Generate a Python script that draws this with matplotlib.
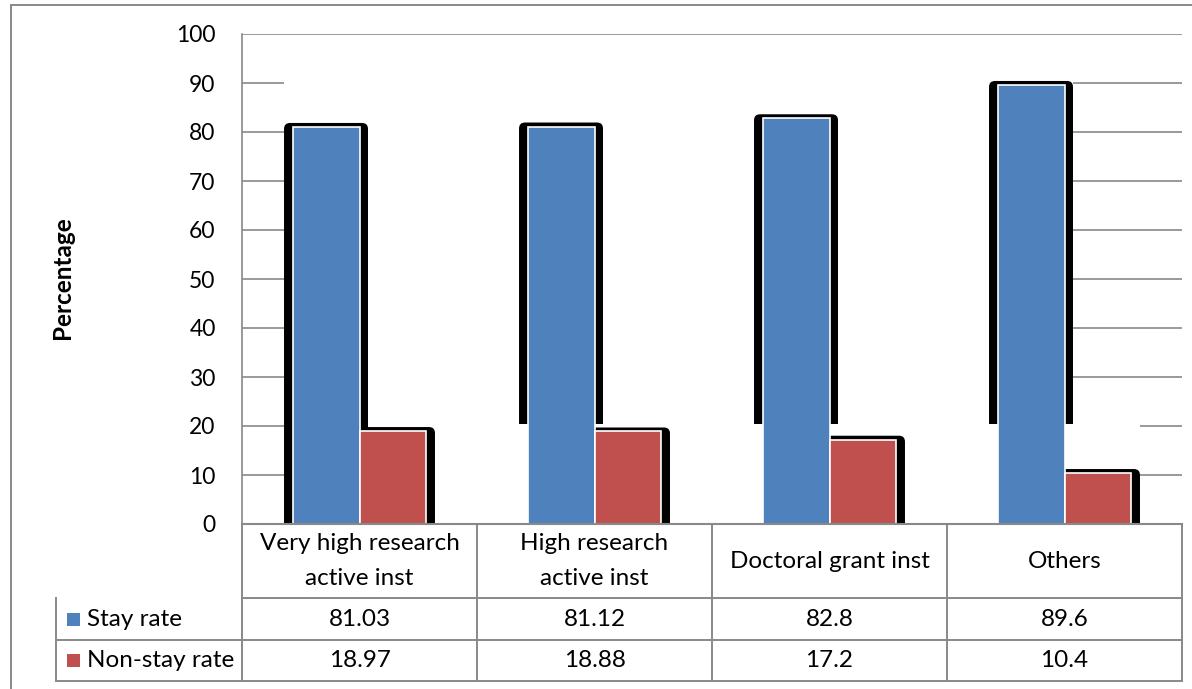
import numpy as np
import matplotlib.pyplot as plt
from matplotlib.patches import Rectangle, FancyBboxPatch
from matplotlib.lines import Line2D

plt.rcParams.update({'font.family': 'Lato', 'font.size': 17.5})

categories = ["Very high research\nactive inst", "High research\nactive inst",
              "Doctoral grant inst", "Others"]
series = ["Stay rate", "Non-stay rate"]
stay_rate = [81.03, 81.12, 82.8, 89.6]
nonstay_rate = [18.97, 18.88, 17.2, 10.4]
yticks = [0, 10, 20, 30, 40, 50, 60, 70, 80, 90, 100]

blue = '#4F81BD'
red = '#C0504D'
grid_c = '#898989'

W, H = 1192, 689
fig = plt.figure(figsize=(W / 100, H / 100), dpi=100)
ax = fig.add_axes([242 / W, 1 - 524 / H, 940 / W, 490 / H])
ax.set_xlim(0, len(categories))
ax.set_ylim(0, 100)

# pixel scale of the axes, used for shadow offsets
px_x = 940 / len(categories)
px_y = 490 / 100

bw = 0.285
x = np.arange(len(categories)) + 0.5
pad_x = 8.5 / px_x
pad_top = 4 / px_y
cut = 20.4

for v in yticks[1:]:
    ax.axhline(v, color=grid_c, lw=1.2, zorder=0)

# white area behind the bars hides the gridlines
left_edge = x[0] - bw - pad_x
ax.add_patch(Rectangle((left_edge, 0), x[-1] + pad_x - left_edge, 99.6,
                       fc='white', ec='none', zorder=1))


def shadow(x0, top, z):
    ax.add_patch(FancyBboxPatch((x0 - pad_x, -3), bw + 2 * pad_x, top + pad_top + 3,
                                boxstyle='round,pad=0,rounding_size=%f' % (6 / px_x),
                                mutation_aspect=px_x / px_y,
                                fc='black', ec='none', zorder=z))


for i in range(len(categories)):
    shadow(x[i] - bw, stay_rate[i], 4 if i == 0 else 2)

ax.add_patch(Rectangle((left_edge, 0), x[-1] + bw + pad_x - left_edge, cut,
                       fc='white', ec='none', zorder=3))

for i in range(len(categories)):
    shadow(x[i], nonstay_rate[i], 4)

ax.bar(x - bw / 2, stay_rate, bw, color=blue, edgecolor='white', lw=1.2, zorder=5)
ax.bar(x + bw / 2, nonstay_rate, bw, color=red, edgecolor='white', lw=1.2, zorder=5)
ax.axhline(0, color=grid_c, lw=1.5, zorder=6, clip_on=False)

for s in ['top', 'right', 'bottom']:
    ax.spines[s].set_visible(False)
ax.spines['left'].set_color(grid_c)
ax.spines['left'].set_linewidth(1.2)
ax.set_xticks([])
ax.set_yticks(yticks)
ax.tick_params(axis='y', length=0, pad=19, labelsize=16.5)

# data table under the plot
tr = ax.get_xaxis_transform()
row_y = [0, -74 / 490, -116 / 490, -157 / 490]
key_x = (56 - 242) / px_x
lkw = dict(color=grid_c, lw=1.4, transform=tr, clip_on=False)
ax.add_line(Line2D([0, 4], [row_y[1]] * 2, **lkw))
for r in (2, 3):
    ax.add_line(Line2D([key_x, 4], [row_y[r]] * 2, **lkw))
for c in range(len(categories) + 1):
    ax.add_line(Line2D([c, c], [row_y[0], row_y[3]], **lkw))
ax.add_line(Line2D([key_x, key_x], [row_y[1], row_y[3]], **lkw))

for i, cat in enumerate(categories):
    ax.text(x[i], (row_y[0] + row_y[1]) / 2, cat, transform=tr, ha='center',
            va='center', linespacing=1.78)
    ax.text(x[i], (row_y[1] + row_y[2]) / 2, '%g' % stay_rate[i], transform=tr,
            ha='center', va='center')
    ax.text(x[i], (row_y[2] + row_y[3]) / 2, '%g' % nonstay_rate[i], transform=tr,
            ha='center', va='center')

for r, (name, col) in enumerate(zip(series, [blue, red])):
    yc = (row_y[r + 1] + row_y[r + 2]) / 2
    ax.add_patch(Rectangle(((67 - 242) / px_x, yc - 6.5 / 490), 13 / px_x, 13 / 490,
                           fc=col, ec='none', transform=tr, clip_on=False))
    ax.text((87 - 242) / px_x, yc, name, transform=tr, ha='left', va='center')

fig.text(63 / W, 1 - 278 / H, 'Percentage', rotation=90, ha='center', va='center',
         fontsize=17.5, fontweight='bold')

# chart area border
fig.add_artist(Line2D([11 / W, 11 / W], [0, 1 - 5 / H], color=grid_c, lw=1.4))
fig.add_artist(Line2D([11 / W, 1], [1 - 5 / H, 1 - 5 / H], color=grid_c, lw=1.4))

fig.savefig('out.png', dpi=100)
